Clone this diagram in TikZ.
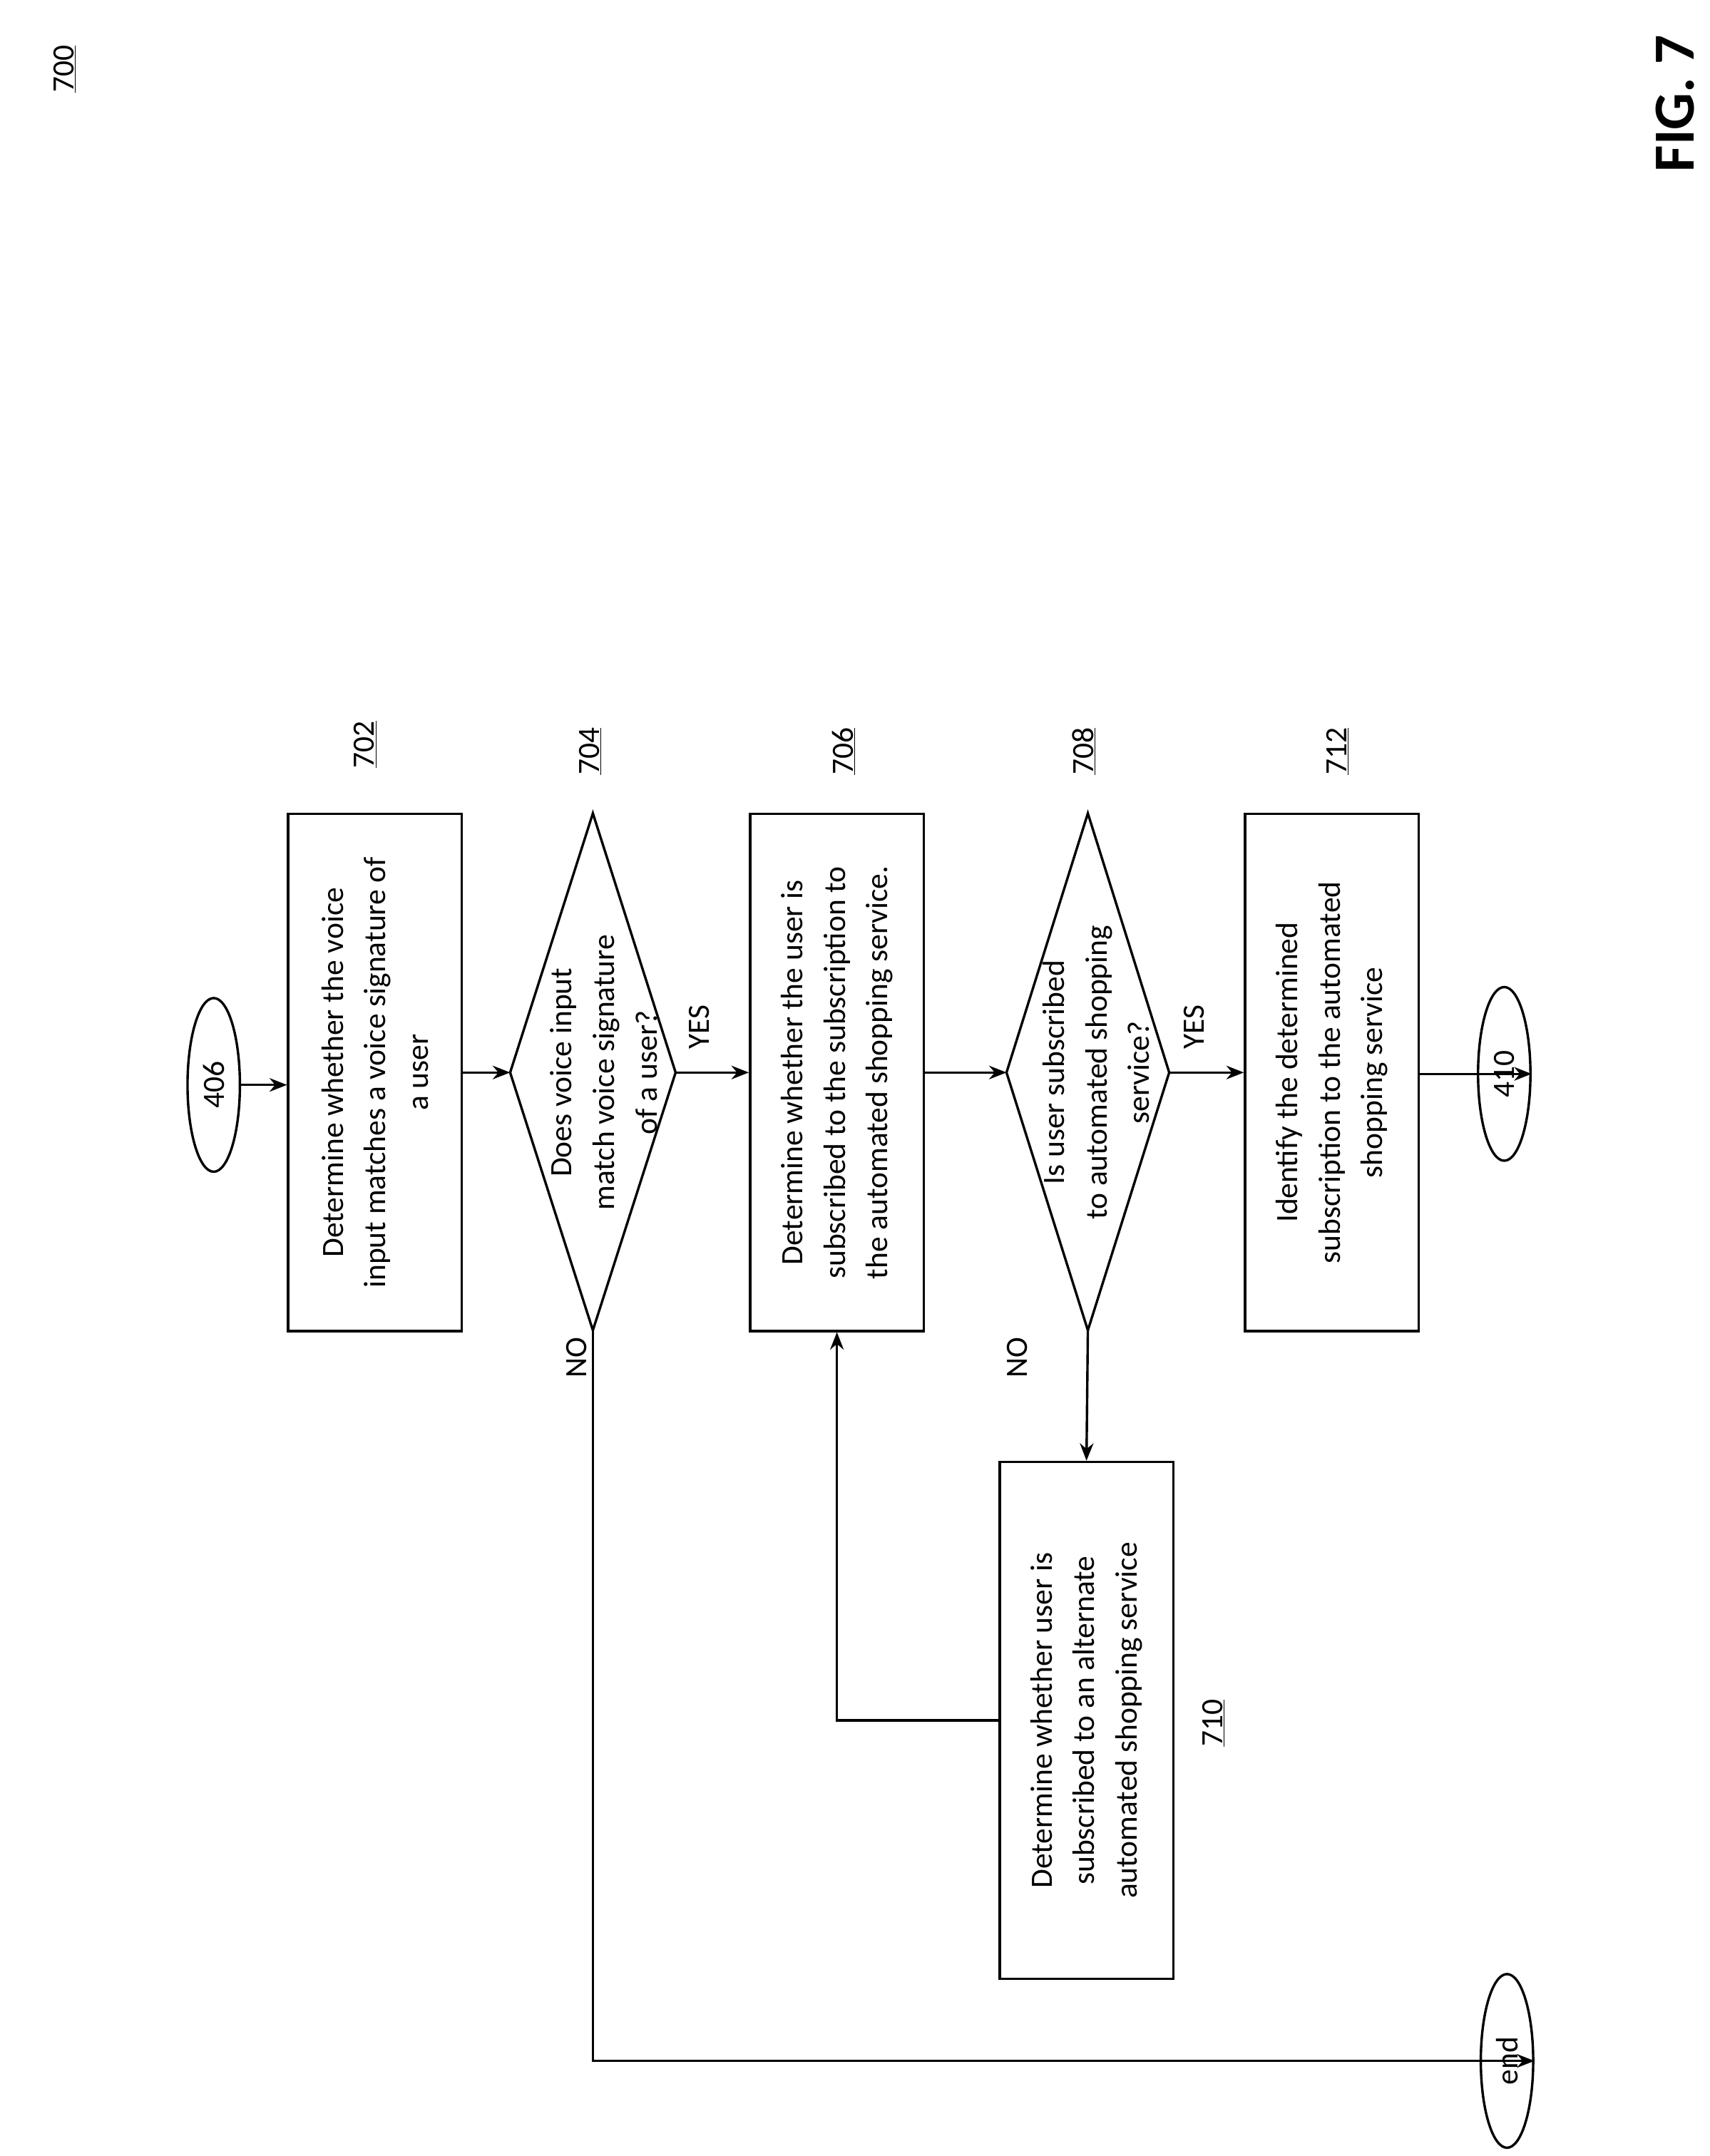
\documentclass[tikz,border=0pt]{standalone}
\usepackage{fontspec}
\setmainfont{Carlito}
\usetikzlibrary{arrows.meta,shapes.geometric}
\begin{document}
\begin{tikzpicture}[x=0.05cm,y=-0.05cm,
  every node/.style={font=\fontsize{32}{44}\selectfont},
  box/.style={draw,line width=2.5pt,rotate=90,minimum width=18.75cm,minimum height=6.3cm,align=center,inner sep=0pt},
  term/.style={draw,ellipse,line width=2.5pt,rotate=90,minimum width=6.3cm,minimum height=1.9cm,inner sep=0pt},
  txt/.style={rotate=90,align=center},
  lab/.style={rotate=90},
  arr/.style={line width=2.5pt,-{Stealth[length=18pt,width=14pt]}},
  ln/.style={line width=2.5pt}]
\useasboundingbox (0,0) rectangle (1240,1564);
\node[lab] (l700) at (47,50) {\underline{700}};
\node[lab,font=\fontsize{60}{70}\selectfont\bfseries] (fig) at (1215,75) {FIG. 7};
\node[term] (n406) at (155,787) {406};
\node[box] (n702) at (272,778) {Determine whether the voice\\input matches a voice signature of\\a user};
\draw[ln] (370,778) coordinate (d1l) -- (430,590) coordinate (d1t) -- (490,778) coordinate (d1r) -- (430,965) coordinate (d1b) -- cycle;
\node[txt] (n704) at (438,778) {Does voice input\\match voice signature\\of a user?};
\node[box] (n706) at (607,778) {Determine whether the user is\\subscribed to the subscription to\\the automated shopping service.};
\draw[ln] (730,778) coordinate (d2l) -- (789,590) coordinate (d2t) -- (848,778) coordinate (d2r) -- (789,965) coordinate (d2b) -- cycle;
\node[txt] (n708) at (795,778) {Is user subscribed\\to automated shopping\\service?};
\node[box] (n712) at (966,778) {Identify the determined\\subscription to the automated\\shopping service};
\node[term] (n410) at (1091,779) {410};
\node[box] (n710) at (788,1248) {Determine whether user is\\subscribed to an alternate\\automated shopping service};
\node[term] (nend) at (1093,1495) {end};
\node[lab] at (265,540) {\underline{702}};
\node[lab] at (428,545) {\underline{704}};
\node[lab] at (612,545) {\underline{706}};
\node[lab] at (786,545) {\underline{708}};
\node[lab] at (970,545) {\underline{712}};
\node[lab] at (880,1250) {\underline{710}};
\node[lab] at (507,745) {YES};
\node[lab] at (866,745) {YES};
\node[lab] at (418,985) {NO};
\node[lab] at (738,985) {NO};
\draw[arr] (n406.south) -- (n406.south -| n702.north);
\draw[arr] (n702.south |- d1l) -- (d1l);
\draw[arr] (d1r) -- (d1r -| n706.north);
\draw[arr] (n706.south |- d2l) -- (d2l);
\draw[arr] (d2r) -- (d2r -| n712.north);
\draw[arr] (n712.south |- n410.south) -- (n410.south);
\draw[arr] (d1b) -- (430,1495) -- (nend.south);
\draw[arr] (d2b) -- (n710.east);
\draw[arr] (n710.north) -- (607,1248) -- (n706.west -| 607,0);
\end{tikzpicture}
\end{document}
